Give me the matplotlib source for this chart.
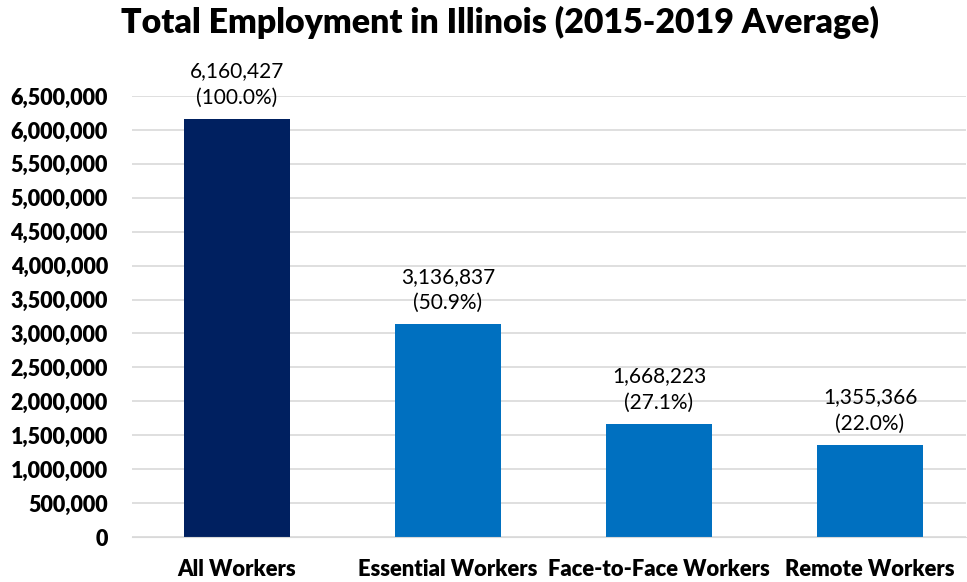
import matplotlib.pyplot as plt

categories = ["All Workers", "Essential Workers", "Face-to-Face Workers", "Remote Workers"]
values = [6160427, 3136837, 1668223, 1355366]
shares = ["100.0%", "50.9%", "27.1%", "22.0%"]
colors = ["#002060", "#0070C0", "#0070C0", "#0070C0"]
yticks = list(range(0, 6500001, 500000))

plt.rcParams['font.family'] = ['Lato', 'DejaVu Sans']

fig = plt.figure(figsize=(9.67, 5.82), dpi=100)
ax = fig.add_axes([131.5 / 967, 1 - 537 / 582, (966 - 131.5) / 967, (537 - 96) / 582])

x = list(range(len(categories)))
ax.bar(x, values, width=0.5, color=colors, zorder=2)

for xi, v, s in zip(x, values, shares):
    ax.annotate(f"{v:,}\n({s})", (xi, v), xytext=(0, 8), textcoords="offset points",
                ha="center", va="bottom", fontsize=15, linespacing=1.4,
                annotation_clip=False)

ax.set_xlim(-0.5, 3.455)
ax.set_ylim(0, 6500000)
ax.set_yticks(yticks, labels=[f"{t:,}" for t in yticks], fontsize=15.5, fontweight="heavy")
ax.set_xticks(x, labels=categories, fontsize=15.8, fontweight="heavy")

ax.grid(axis="y", color="#D9D9D9", linewidth=1.2, zorder=0)
ax.tick_params(axis="y", length=0, pad=17)
ax.tick_params(axis="x", length=0, pad=16)
for sp in ["top", "right", "left"]:
    ax.spines[sp].set_visible(False)
ax.spines["bottom"].set_color("#D9D9D9")

fig.text(0.517, 0.962, "Total Employment in Illinois (2015-2019 Average)",
         ha="center", va="center", fontsize=24.4, fontweight="heavy")

fig.savefig("out.png", dpi=100)
